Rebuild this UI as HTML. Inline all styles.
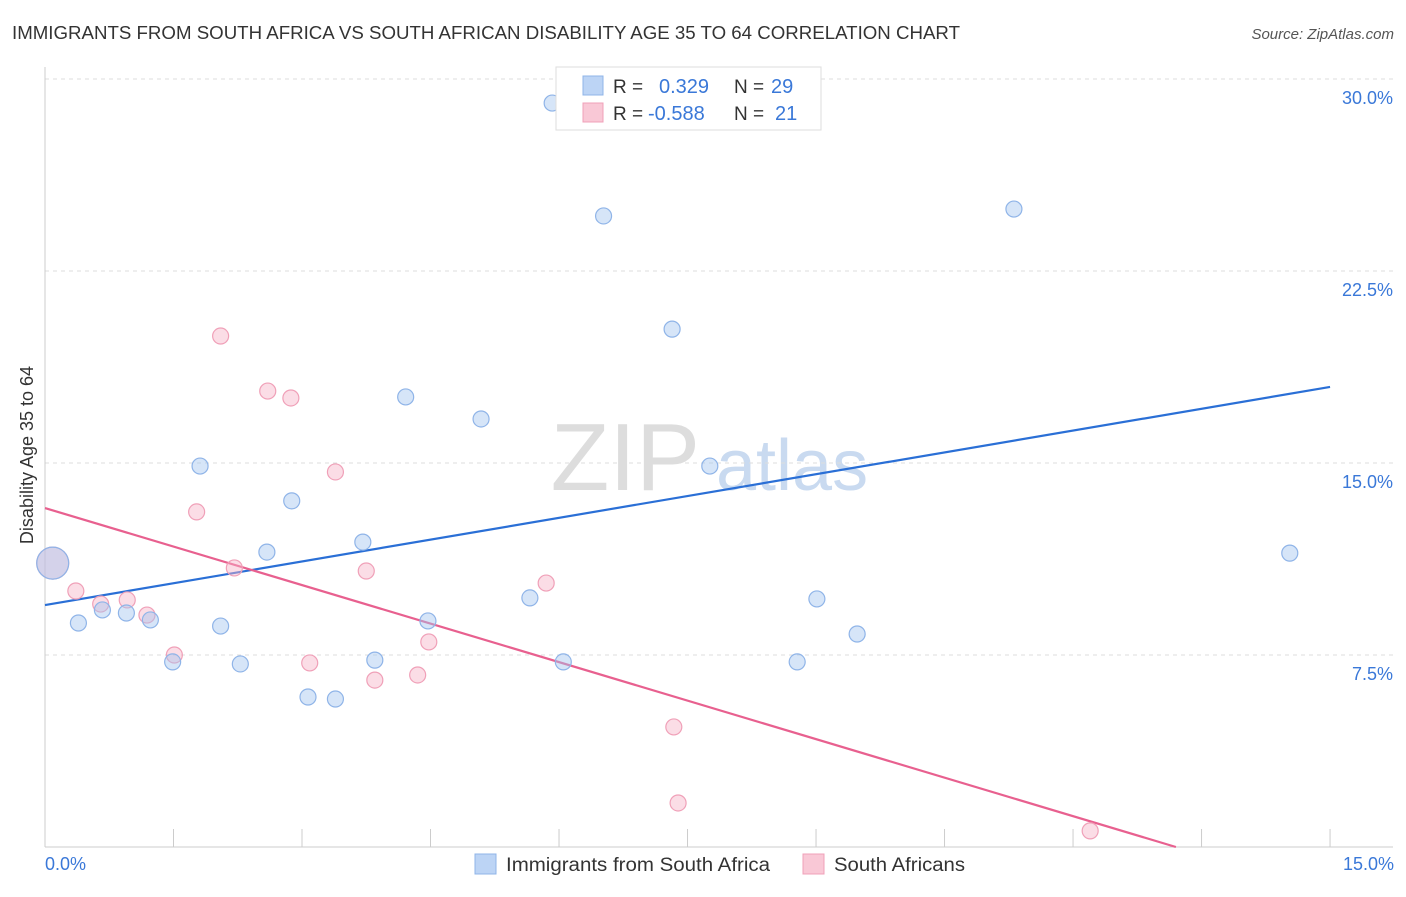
<!DOCTYPE html>
<html><head><meta charset="utf-8"><style>
body{margin:0;background:#fff;font-family:"Liberation Sans",sans-serif;}
svg text{font-family:"Liberation Sans",sans-serif;}
</style></head><body>
<svg width="1406" height="892" xmlns="http://www.w3.org/2000/svg">
<text x="12" y="39" font-size="18" fill="#333" textLength="948" lengthAdjust="spacingAndGlyphs">IMMIGRANTS FROM SOUTH AFRICA VS SOUTH AFRICAN DISABILITY AGE 35 TO 64 CORRELATION CHART</text>
<text x="1394" y="39" font-size="15" fill="#555" font-style="italic" text-anchor="end">Source: ZipAtlas.com</text>
<text x="700" y="490" font-size="96" fill="#ddd" font-family="Liberation Serif" text-anchor="end">ZIP</text>
<text x="716" y="490" font-size="72" fill="#c9daf0">atlas</text>
<g id="grid"></g>
<g id="axes"></g>
<text transform="translate(33,455) rotate(-90)" font-size="18" fill="#333" text-anchor="middle">Disability Age 35 to 64</text>
<text x="45" y="870" font-size="18" fill="#3a78d8">0.0%</text>
<text x="1394" y="870" font-size="18" fill="#3a78d8" text-anchor="end">15.0%</text>
<g id="trend"></g>
<g id="points"></g>
<g>
<rect x="556" y="67" width="265" height="63" fill="#fff" stroke="#ddd"/>
<rect x="583" y="76" width="20" height="19" fill="#bcd4f5" stroke="#8fb4e8"/>
<rect x="583" y="103" width="20" height="19" fill="#f9c8d6" stroke="#f0a0b8"/>
<text x="613" y="93" font-size="19" fill="#333">R =</text><text x="659" y="93" font-size="20" fill="#3a78d8">0.329</text>
<text x="734" y="93" font-size="19" fill="#333">N =</text><text x="771" y="93" font-size="20" fill="#3a78d8">29</text>
<text x="613" y="120" font-size="19" fill="#333">R =</text><text x="648" y="120" font-size="20" fill="#3a78d8">-0.588</text>
<text x="734" y="120" font-size="19" fill="#333">N =</text><text x="775" y="120" font-size="20" fill="#3a78d8">21</text>
</g>
<g>
<rect x="475" y="854" width="21" height="20" fill="#bcd4f5" stroke="#8fb4e8"/>
<text x="506" y="871" font-size="19" fill="#333" textLength="264" lengthAdjust="spacingAndGlyphs">Immigrants from South Africa</text>
<rect x="803" y="854" width="21" height="20" fill="#f9c8d6" stroke="#f0a0b8"/>
<text x="834" y="871" font-size="19" fill="#333" textLength="131" lengthAdjust="spacingAndGlyphs">South Africans</text>
</g>
</svg>
<script>
const yTicks=[7.5,15,22.5,30];
const yTickLabels=["7.5%","15.0%","22.5%","30.0%"];
const xTicks=[0,1.5,3,4.5,6,7.5,9,10.5,12,13.5,15];
const blueX=[5.92,6.52,11.31,7.32,4.21,5.09,1.81,7.76,2.88,3.71,2.59,14.53,0.09,5.66,9.01,0.39,0.67,0.95,1.23,2.05,4.47,9.48,1.49,2.28,3.85,6.05,8.78,3.07,3.39];
const blueY=[29.06,24.65,24.92,20.23,17.58,16.72,14.88,14.88,13.52,11.91,11.52,11.48,11.09,9.73,9.69,8.75,9.26,9.14,8.87,8.63,8.83,8.32,7.23,7.15,7.30,7.23,7.23,5.86,5.78];
const blueR=[8,8,8,8,8,8,8,8,8,8,8,8,16,8,8,8,8,8,8,8,8,8,8,8,8,8,8,8,8];
const pinkX=[2.05,2.60,2.87,3.39,1.77,2.21,3.75,5.85,0.36,0.65,0.96,1.19,4.48,1.51,3.09,3.85,4.35,7.34,7.39,12.20,0.09];
const pinkY=[19.96,17.81,17.54,14.65,13.09,10.90,10.78,10.31,10.0,9.49,9.65,9.06,8.01,7.5,7.19,6.52,6.72,4.69,1.72,0.63,11.09];
const pinkR=[8,8,8,8,8,8,8,8,8,8,8,8,8,8,8,8,8,8,8,8,16];
const blueTrend=[9.45,17.97];
const pinkTrend=[13.24,-1.003];
const X=v=>45+v*85.67, Y=v=>847-v*25.6;
const NS="http://www.w3.org/2000/svg";
function mk(t,a,p){const e=document.createElementNS(NS,t);for(const k in a)e.setAttribute(k,a[k]);p.appendChild(e);return e;}
const grid=document.getElementById('grid'),axes=document.getElementById('axes');
yTicks.forEach((t,i)=>{
 const l=mk('line',{x1:45,x2:1393,y1:Y(t),y2:Y(t),stroke:'#ddd','stroke-dasharray':'4,4'},grid);
 
 
 const tx=mk('text',{x:1393,y:Y(t)+25,'font-size':18,fill:'#3a78d8','text-anchor':'end'},grid);
 tx.textContent=yTickLabels[i];
 
 
});
const ya=mk('line',{x1:45,x2:45,y1:67,y2:847,stroke:'#ccc'},axes);


const xa=mk('line',{x1:45,x2:1393,y1:847,y2:847,stroke:'#ccc'},axes);


xTicks.forEach(t=>{
 const l=mk('line',{x1:X(t),x2:X(t),y1:829,y2:847,stroke:'#ccc'},axes);
 
 
});
const pts=document.getElementById('points');
pinkX.forEach((v,i)=>{
 const c=mk('circle',{cx:X(v),cy:Y(pinkY[i]),r:pinkR[i],fill:'rgba(246,180,200,0.45)',stroke:'#f0a0b8','stroke-width':1.2},pts);
 
 
});
blueX.forEach((v,i)=>{
 const c=mk('circle',{cx:X(v),cy:Y(blueY[i]),r:blueR[i],fill:'rgba(165,198,240,0.45)',stroke:'#8fb4e8','stroke-width':1.2},pts);
 
 
});
const tr=document.getElementById('trend');
const bl=mk('line',{x1:X(0),y1:Y(blueTrend[0]),x2:X(15),y2:Y(blueTrend[1]),stroke:'#2a6fd6','stroke-width':2.2},tr);


const xEnd=-pinkTrend[0]/pinkTrend[1];
const pl=mk('line',{x1:X(0),y1:Y(pinkTrend[0]),x2:X(xEnd),y2:Y(0),stroke:'#e8608f','stroke-width':2.2},tr);


</script>
</body></html>
